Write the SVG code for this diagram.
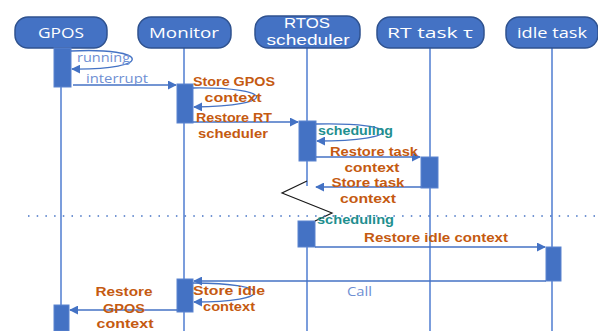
<svg xmlns="http://www.w3.org/2000/svg" width="598" height="331" viewBox="0 0 598 331">
<defs>
<marker id="ah" viewBox="0 0 10 10" refX="9" refY="5" markerWidth="9" markerHeight="9" markerUnits="userSpaceOnUse" orient="auto">
<path d="M0,0 L10,5 L0,10 z" fill="#4472c4"/>
</marker>
</defs>
<style>
.hdr{fill:#4472c4;stroke:#2f528f;stroke-width:1.5}
.ht{font-family:"Open Sans","Liberation Sans",sans-serif;font-size:15px;fill:#ffffff;text-anchor:middle}
.ht2{font-family:"Liberation Sans",Arial,sans-serif;font-size:14px;fill:#ffffff;text-anchor:middle}
.life{stroke:#7b9ddc;stroke-width:2;fill:none}
.bar{fill:#4472c4;stroke:#5b83cf;stroke-width:1}
.msg{stroke:#4472c4;stroke-width:1.5;fill:none;marker-end:url(#ah)}
.loop{stroke:#4472c4;stroke-width:1.3;fill:none;marker-end:url(#ah)}
.or{font-family:"Liberation Sans",Arial,sans-serif;font-size:13px;font-weight:bold;fill:#c55a11;text-anchor:middle}
.tl{font-family:"Liberation Sans",Arial,sans-serif;font-size:13px;font-weight:bold;fill:#1f8f8f}
.bl{font-family:"Open Sans","Liberation Sans",sans-serif;font-size:12.5px;fill:#6f8fd3}
</style>
<g id="lifelines">
<line class="life" x1="61" y1="48" x2="61" y2="331"/>
<line class="life" x1="184" y1="48" x2="184" y2="331"/>
<line class="life" x1="307" y1="48" x2="307" y2="186"/>
<line class="life" x1="307" y1="221" x2="307" y2="331"/>
<line class="life" x1="430" y1="48" x2="430" y2="331"/>
<line class="life" x1="552" y1="48" x2="552" y2="331"/>
</g>
<g id="GPOS">
<rect class="hdr" x="15" y="17" width="92" height="31" rx="13"/>
<text class="ht" x="61" y="38" textLength="46" lengthAdjust="spacingAndGlyphs">GPOS</text>
</g>
<g id="Monitor">
<rect class="hdr" x="138" y="17" width="93" height="31" rx="13"/>
<text class="ht" x="184" y="38" textLength="70" lengthAdjust="spacingAndGlyphs">Monitor</text>
</g>
<g id="RTOS">
<rect class="hdr" x="255" y="16" width="105" height="32" rx="13"/>
<text class="ht2" x="307" y="28" textLength="46" lengthAdjust="spacingAndGlyphs">RTOS</text>
<text class="ht2" x="308" y="45" textLength="83" lengthAdjust="spacingAndGlyphs">scheduler</text>
</g>
<g id="RTtask">
<rect class="hdr" x="377" y="17" width="107" height="31" rx="13"/>
<text class="ht" x="430" y="38" textLength="86" lengthAdjust="spacingAndGlyphs">RT task τ</text>
</g>
<g id="idle">
<rect class="hdr" x="506" y="17" width="92" height="31" rx="13"/>
<text class="ht" x="552" y="38" textLength="70" lengthAdjust="spacingAndGlyphs">idle task</text>
</g>
<g id="bars">
<rect class="bar" x="54" y="48" width="17" height="39"/>
<rect class="bar" x="177" y="84" width="16" height="39"/>
<rect class="bar" x="299" y="121" width="17" height="40"/>
<rect class="bar" x="421" y="157" width="17" height="31"/>
<rect class="bar" x="298" y="221" width="17" height="26"/>
<rect class="bar" x="546" y="247" width="15" height="34"/>
<rect class="bar" x="177" y="279" width="16" height="33"/>
<rect class="bar" x="54" y="305" width="15" height="26"/>
</g>
<g id="connectors">
<path class="loop" d="M71,51 C150,47 155,70 72,69"/>
<line class="msg" x1="73" y1="85" x2="176" y2="85"/>
<path class="loop" d="M193,88 C275,87 280,106 194,107"/>
<line class="msg" x1="193" y1="122" x2="298" y2="122"/>
<path class="loop" d="M316,124 C405,122 405,141 317,141"/>
<line class="msg" x1="316" y1="157" x2="420" y2="157"/>
<line class="msg" x1="421" y1="187" x2="316" y2="187"/>
<line class="msg" x1="315" y1="247" x2="545" y2="247"/>
<line class="msg" x1="546" y1="281" x2="194" y2="281"/>
<path class="loop" d="M193,283 C275,283 275,302 194,302"/>
<line class="msg" x1="177" y1="310" x2="70" y2="310"/>
<polyline points="307,181 282,193 332,213 315,221" fill="none" stroke="#1a1a1a" stroke-width="1.2"/>
<line x1="28" y1="216" x2="598" y2="216" stroke="#4472c4" stroke-width="1.5" stroke-dasharray="1.5 7.2"/>
</g>
<g id="labels">
<text class="bl" x="77" y="62" textLength="53" lengthAdjust="spacingAndGlyphs">running</text>
<text class="bl" x="86" y="83" textLength="62" lengthAdjust="spacingAndGlyphs">interrupt</text>
<text class="or" x="234" y="86" textLength="82" lengthAdjust="spacingAndGlyphs">Store GPOS</text>
<text class="or" x="233" y="102" textLength="57" lengthAdjust="spacingAndGlyphs">context</text>
<text class="or" x="234" y="122" textLength="76" lengthAdjust="spacingAndGlyphs">Restore RT</text>
<text class="or" x="233" y="138" textLength="70" lengthAdjust="spacingAndGlyphs">scheduler</text>
<text class="tl" x="318" y="135" textLength="75" lengthAdjust="spacingAndGlyphs">scheduling</text>
<text class="or" x="374" y="156" textLength="88" lengthAdjust="spacingAndGlyphs">Restore task</text>
<text class="or" x="372" y="172" textLength="55" lengthAdjust="spacingAndGlyphs">context</text>
<text class="or" x="368" y="187" textLength="73" lengthAdjust="spacingAndGlyphs">Store task</text>
<text class="or" x="368" y="203" textLength="56" lengthAdjust="spacingAndGlyphs">context</text>
<text class="tl" x="317" y="224" textLength="77" lengthAdjust="spacingAndGlyphs">scheduling</text>
<text class="or" x="436" y="242" textLength="144" lengthAdjust="spacingAndGlyphs">Restore idle context</text>
<text class="bl" x="347" y="296" textLength="25" lengthAdjust="spacingAndGlyphs">Call</text>
<text class="or" x="229" y="295" textLength="72" lengthAdjust="spacingAndGlyphs">Store idle</text>
<text class="or" x="229" y="311" textLength="52" lengthAdjust="spacingAndGlyphs">context</text>
<text class="or" x="124" y="296" textLength="57" lengthAdjust="spacingAndGlyphs">Restore</text>
<text class="or" x="124" y="313" textLength="42" lengthAdjust="spacingAndGlyphs">GPOS</text>
<text class="or" x="125" y="328" textLength="57" lengthAdjust="spacingAndGlyphs">context</text>
</g>
</svg>
